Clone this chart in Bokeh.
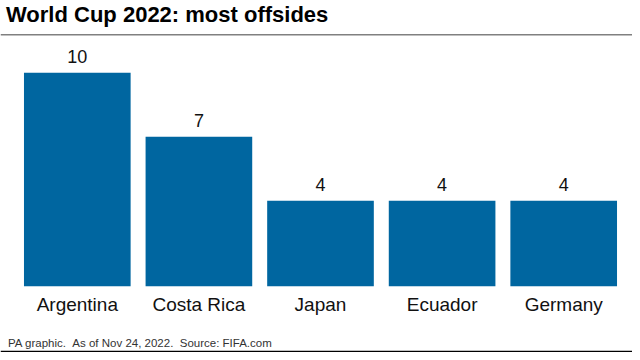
from bokeh.plotting import figure
from bokeh.models import Range1d, ColumnDataSource, Span, Label
from bokeh.core.properties import value
from bokeh.embed import file_html
from bokeh.resources import INLINE

title_text = "World Cup 2022: most offsides"
footer_text = "PA graphic.\u00a0\u00a0As of Nov 24, 2022.\u00a0\u00a0Source: FIFA.com"
countries = ["Argentina", "Costa Rica", "Japan", "Ecuador", "Germany"]
offsides = [10, 7, 4, 4, 4]

W, H = 632, 352
PX_X = 121.6       # pixels per category
PX_Y = 21.35       # pixels per offside
X0 = -76.8 / PX_X  # data x at left edge
BASE = 285.7       # pixel row of zero line


def dx(px):
    return X0 + px / PX_X


def dy(py):
    return (BASE - py) / PX_Y


p = figure(width=W, height=H, output_backend="svg", toolbar_location=None,
           x_range=Range1d(X0, X0 + W / PX_X), y_range=Range1d(dy(H), dy(0)),
           x_axis_type=None, y_axis_type=None, min_border=0,
           outline_line_color=None, background_fill_color="white")
p.grid.visible = False

idx = list(range(len(countries)))
src = ColumnDataSource(dict(x=idx, top=offsides, name=countries,
                            lab=[str(v) for v in offsides]))

p.vbar(x="x", top="top", bottom=0, width=0.877, source=src,
       fill_color="#0066a0", line_color=None)

p.text(x="x", y="top", text="lab", source=src, text_align="center",
       text_baseline="bottom", y_offset=-9.5, text_font=value("Liberation Sans"),
       text_font_size="18px", text_color="#111111")

p.text(x="x", y=dy(314.5), text="name", source=src, text_align="center",
       text_baseline="bottom", text_font=value("Liberation Sans"),
       text_font_size="19px", text_color="#111111")

p.add_layout(Label(x=dx(5.5), y=dy(26), text=title_text,
                   text_font="Liberation Sans", text_font_style="bold",
                   text_font_size="22px", text_color="#000000",
                   text_baseline="bottom"))
p.add_layout(Span(location=dy(34.3), dimension="width",
                  line_color="#808080", line_width=1.5))

p.add_layout(Label(x=dx(7.5), y=dy(348), text=footer_text,
                   text_font="Liberation Sans", text_font_size="11.5px",
                   text_color="#333333", text_baseline="bottom"))
p.add_layout(Span(location=dy(351), dimension="width",
                  line_color="#000000", line_width=1.5))

open("out.html", "w").write(file_html(p, INLINE))
